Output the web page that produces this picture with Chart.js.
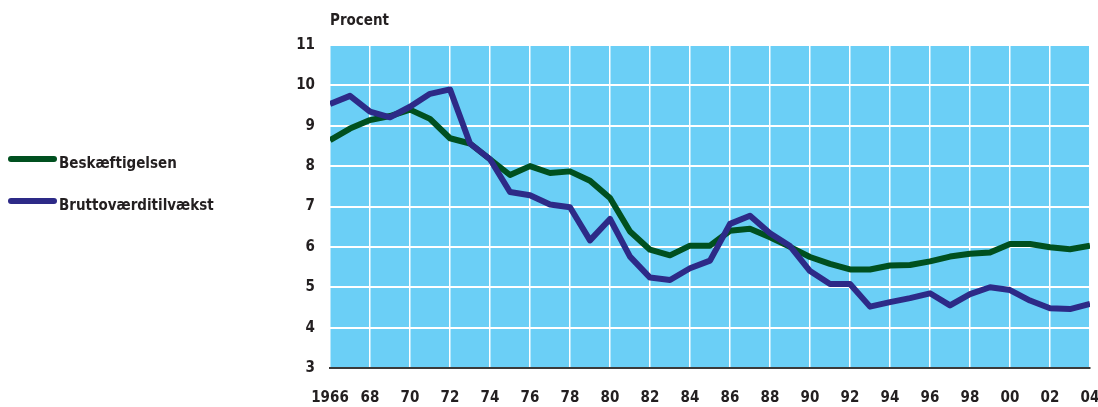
<!DOCTYPE html>
<html>
<head>
<meta charset="utf-8">
<script src="https://cdn.jsdelivr.net/npm/chart.js@4.4.1/dist/chart.umd.min.js"></script>
<style>
  html, body { margin: 0; padding: 0; background: #fff; }
  .wrap { position: relative; width: 1098px; height: 407px; }
  canvas { position: absolute; left: 0; top: 0; }
  .lbl { position: absolute; font-family: "DejaVu Sans Condensed", sans-serif;
         font-weight: bold; font-size: 15px; color: #231f20; white-space: nowrap; }
  .legend-line { position: absolute; width: 49px; height: 6px; border-radius: 3px; }
</style>
</head>
<body>
<div class="wrap">
  <canvas id="chart" width="1098" height="407"></canvas>
  <div class="lbl" style="left:330px; top:11px;">Procent</div>
  <div class="legend-line" style="left:8px; top:156px; background:#00501f;"></div>
  <div class="lbl" style="left:59px; top:154px;">Beskæftigelsen</div>
  <div class="legend-line" style="left:8px; top:198px; background:#2d2a87;"></div>
  <div class="lbl" style="left:59px; top:196px;">Bruttoværditilvækst</div>
</div>
<script>
const years = [1966, 1967, 1968, 1969, 1970, 1971, 1972, 1973, 1974, 1975, 1976, 1977,
  1978, 1979, 1980, 1981, 1982, 1983, 1984, 1985, 1986, 1987, 1988, 1989,
  1990, 1991, 1992, 1993, 1994, 1995, 1996, 1997, 1998, 1999, 2000, 2001, 2002, 2003, 2004];

const beskaeftigelsen = [8.64, 8.93, 9.14, 9.24, 9.40, 9.17, 8.69, 8.56, 8.17, 7.78, 8.00, 7.83,
  7.87, 7.64, 7.21, 6.38, 5.93, 5.79, 6.03, 6.03, 6.40, 6.45, 6.24, 6.00,
  5.75, 5.58, 5.44, 5.44, 5.54, 5.55, 5.64, 5.76, 5.83, 5.86, 6.07, 6.07, 5.99, 5.94, 6.03];

const bruttovaerdi = [9.54, 9.74, 9.35, 9.21, 9.47, 9.79, 9.90, 8.56, 8.17, 7.36, 7.28, 7.05,
  6.98, 6.16, 6.69, 5.76, 5.24, 5.18, 5.47, 5.66, 6.57, 6.77, 6.34, 6.02,
  5.40, 5.08, 5.08, 4.52, 4.63, 4.73, 4.85, 4.55, 4.83, 5.00, 4.93, 4.67, 4.48, 4.46, 4.59];

const xTickLabels = ['1966', '68', '70', '72', '74', '76', '78', '80', '82', '84',
  '86', '88', '90', '92', '94', '96', '98', '00', '02', '04'];

const FONT = '"DejaVu Sans Condensed", sans-serif';

// light blue plot background
const plotBg = {
  id: 'plotBg',
  beforeDraw(chart) {
    const a = chart.chartArea, ctx = chart.ctx;
    ctx.save();
    ctx.fillStyle = '#6bcff6';
    ctx.fillRect(a.left, a.top, a.right - a.left, a.bottom - a.top);
    ctx.restore();
  }
};

const toPoints = vals => vals.map((v, i) => ({ x: years[i], y: v }));

new Chart(document.getElementById('chart'), {
  type: 'line',
  data: {
    datasets: [
      {
        label: 'Bruttoværditilvækst',
        data: toPoints(bruttovaerdi),
        borderColor: '#2d2a87',
        borderWidth: 6,
        pointRadius: 0,
        tension: 0,
        borderJoinStyle: 'round'
      },
      {
        label: 'Beskæftigelsen',
        data: toPoints(beskaeftigelsen),
        borderColor: '#00501f',
        borderWidth: 6,
        pointRadius: 0,
        tension: 0,
        borderJoinStyle: 'round'
      }
    ]
  },
  options: {
    responsive: false,
    animation: false,
    layout: { padding: { top: 45, right: 8, bottom: 0, left: 0 } },
    plugins: { legend: { display: false }, tooltip: { enabled: false } },
    scales: {
      x: {
        type: 'linear',
        min: 1966,
        max: 2004,
        afterFit(s) { s.height = 39; s.paddingLeft = 0; s.paddingRight = 0; },
        afterBuildTicks(s) { s.ticks = xTickLabels.map((t, i) => ({ value: 1966 + 2 * i })); },
        ticks: {
          padding: 21,
          maxRotation: 0,
          autoSkip: false,
          color: '#231f20',
          font: { family: FONT, size: 15, weight: 'bold' },
          callback: (v, i) => xTickLabels[i]
        },
        grid: { color: '#ffffff', lineWidth: 1.5, drawTicks: false },
        border: { display: true, color: '#3a3a3a', width: 2 }
      },
      y: {
        min: 3,
        max: 11,
        afterFit(s) { s.width = 330; },
        ticks: {
          stepSize: 1,
          padding: 15,
          color: '#231f20',
          font: { family: FONT, size: 15, weight: 'bold' }
        },
        grid: { color: '#ffffff', lineWidth: 2, drawTicks: false },
        border: { display: false }
      }
    }
  },
  plugins: [plotBg]
});
</script>
</body>
</html>
